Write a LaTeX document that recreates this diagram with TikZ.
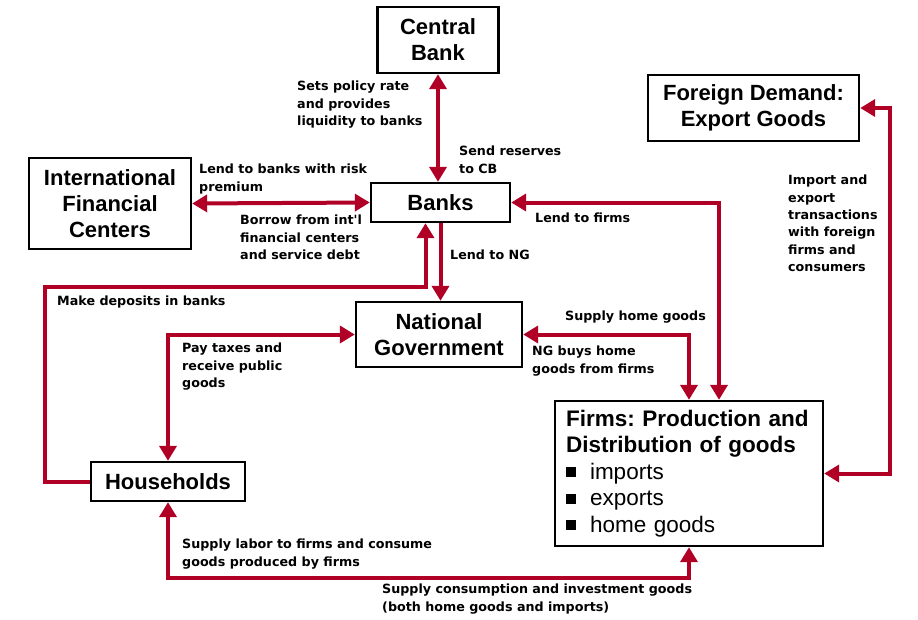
\documentclass[tikz,border=0pt]{standalone}
\usepackage{fontspec}
\setmainfont{Liberation Sans}
\newfontfamily\lblfont{DejaVu Sans}
\usepackage{tikz}
\usetikzlibrary{arrows.meta}
\definecolor{flowred}{RGB}{176,0,38}
\newcommand{\firmitem}{\raisebox{2pt}{\rule{10pt}{10pt}}\hspace{14pt}}
\frenchspacing

\begin{document}
\begin{tikzpicture}[x=1pt,y=-1pt,
    box/.style={draw=black,line width=2.4pt,fill=white,align=center,inner sep=0pt,
        font=\bfseries\fontsize{22}{26}\selectfont},
    flow/.style={draw=flowred,line width=4pt,>={Triangle[length=15pt,width=17pt]}},
    lbl/.style={anchor=north west,align=left,inner sep=0pt,
        font=\lblfont\bfseries\fontsize{12.7}{17.3}\selectfont}]
    \useasboundingbox (0,0) rectangle (918,619);

    % sectors
    \node[box,minimum width=121pt,minimum height=66pt] (cb) at (438,40) {Central\\Bank};
    \node[box,minimum width=211pt,minimum height=66pt] (fd) at (753.5,108) {Foreign Demand:\\Export Goods};
    \node[box,minimum width=162pt,minimum height=91pt] (ifc) at (110,203.5) {International\\Financial\\Centers};
    \node[box,minimum width=139pt,minimum height=39pt] (banks) at (440.5,202.5) {Banks};
    \node[box,minimum width=166pt,minimum height=65pt] (ng) at (439,334.5) {National\\Government};
    \node[box,minimum width=154pt,minimum height=39pt] (hh) at (168,481.5) {Households};
    \node[box,align=left,text width=246pt,inner xsep=11pt,minimum height=145pt,
        font=\fontsize{22.5}{26.5}\selectfont] (firms) at (689,473.5)
        {\textbf{Firms: Production and}\\
         \textbf{Distribution of goods}\\
         \firmitem imports\\
         \firmitem exports\\
         \firmitem home goods};

    % flows
    \coordinate (depcorner) at (45,287);
    \coordinate (supplyrow) at (168,578);
    \draw[flow,<->] (cb.south) -- (cb.south |- banks.north);
    \draw[flow,<->] (ifc.east) -- (banks.west);
    \draw[flow,->] (banks.south) -- (banks.south |- ng.north);
    \draw[flow,->] (hh.west) -| (depcorner) -| ([xshift=-15pt]banks.south);
    \draw[flow,<->] (banks.east) -| ([xshift=30pt]firms.north);
    \draw[flow,<->] (ng.east) -| (firms.north);
    \draw[flow,<->] (fd.east) -- ++(30,0) |- (firms.east);
    \draw[flow,<->] (ng.west) -| (hh.north);
    \draw[flow,<->] (hh.south) -- (supplyrow) -| (firms.south);

    % labels
    \node[lbl] (policy) at (297,81) {Sets policy rate\\and provides\\liquidity to banks};
    \node[lbl] (reserves) at (459,146) {Send reserves\\to CB};
    \node[lbl] (lendbanks) at (199,164) {Lend to banks with risk\\premium};
    \node[lbl] (borrow) at (240,215) {Borrow from int'l\\financial centers\\and service debt};
    \node[lbl] (lendng) at (450,250) {Lend to NG};
    \node[lbl] (lendfirms) at (535,213) {Lend to firms};
    \node[lbl] (deposits) at (57,296) {Make deposits in banks};
    \node[lbl] (homegoods) at (565,311) {Supply home goods};
    \node[lbl] (ngbuys) at (532,346) {NG buys home\\goods from firms};
    \node[lbl] (taxes) at (182,343) {Pay taxes and\\receive public\\goods};
    \node[lbl] (trade) at (788,175) {Import and\\export\\transactions\\with foreign\\firms and\\consumers};
    \node[lbl] (labor) at (182,539) {Supply labor to firms and consume\\goods produced by firms};
    \node[lbl] (consumption) at (382,584) {Supply consumption and investment goods\\(both home goods and imports)};
\end{tikzpicture}
\end{document}
